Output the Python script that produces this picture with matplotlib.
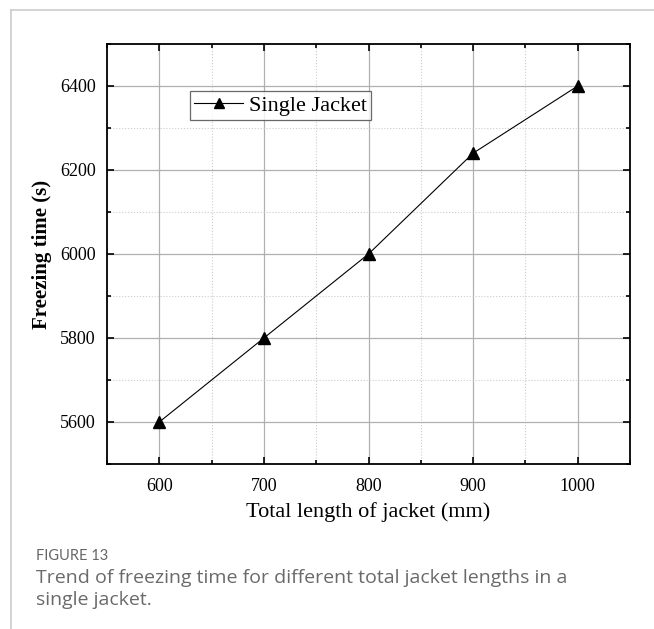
import matplotlib
matplotlib.use("Agg")
import matplotlib.pyplot as plt
from matplotlib.ticker import MultipleLocator
from matplotlib.lines import Line2D

lengths = [600, 700, 800, 900, 1000]
freezing_time = [5600, 5800, 6000, 6240, 6400]
series_label = "Single Jacket"
x_ticks = [600, 700, 800, 900, 1000]
y_ticks = [5600, 5800, 6000, 6200, 6400]

fig = plt.figure(figsize=(6.54, 6.29), dpi=100)
W, H = 654, 629

# figure frame lines (left and top)
fig.add_artist(Line2D([11/W, 11/W], [0, 1 - 10/H], color="#cccccc", lw=1.2, transform=fig.transFigure))
fig.add_artist(Line2D([11/W, 1], [1 - 10/H, 1 - 10/H], color="#cccccc", lw=1.2, transform=fig.transFigure))

ax = fig.add_axes([107/W, 1 - 464/H, (630-107)/W, (464-44)/H])
serif = "Liberation Serif"

ax.plot(lengths, freezing_time, color="black", lw=0.8, marker="^", markersize=8,
        markerfacecolor="black", label=series_label)

ax.set_xlim(550, 1050)
ax.set_ylim(5500, 6500)
ax.set_xticks(x_ticks)
ax.set_yticks(y_ticks)
ax.xaxis.set_minor_locator(MultipleLocator(50))
ax.yaxis.set_minor_locator(MultipleLocator(100))
ax.grid(which="major", color="#b0b0b0", lw=0.9, ls="-")
ax.grid(which="minor", color="#cccccc", lw=0.8, ls=":")
ax.set_axisbelow(True)
ax.tick_params(which="both", direction="in", top=True, right=True, width=1.2)
ax.tick_params(which="major", length=5)
ax.tick_params(which="minor", length=3)
ax.tick_params(axis="x", which="major", pad=10)
ax.tick_params(axis="y", which="major", pad=8)
for lab in ax.get_xticklabels() + ax.get_yticklabels():
    lab.set_fontfamily(serif)
    lab.set_fontsize(13)
for s in ax.spines.values():
    s.set_linewidth(1.3)

ax.set_xlabel("Total length of jacket (mm)", fontfamily=serif, fontsize=16, labelpad=5)
ax.set_ylabel("Freezing time (s)", fontfamily=serif, fontsize=15, fontweight="bold", labelpad=6)

leg = ax.legend(loc="upper left", bbox_to_anchor=(83/523, 1 - 47/420), prop={"family": serif, "size": 16},
                frameon=True, fancybox=False, edgecolor="#444444", borderpad=0.2, borderaxespad=0,
                handlelength=2.2, handletextpad=0.25, markerscale=0.85)
leg.get_frame().set_linewidth(0.9)

fig.text(36/W, 1 - 556/H, "FIGURE 13", fontfamily="Lato", fontsize=10.5, color="#666666",
         va="center", ha="left")
fig.text(36/W, 1 - 589/H, "Trend of freezing time for different total jacket lengths in a\nsingle jacket.",
         fontfamily="Open Sans", fontsize=14, color="#6a6a6a", va="center", ha="left",
         linespacing=1.3)

fig.savefig("out.png", dpi=100)
